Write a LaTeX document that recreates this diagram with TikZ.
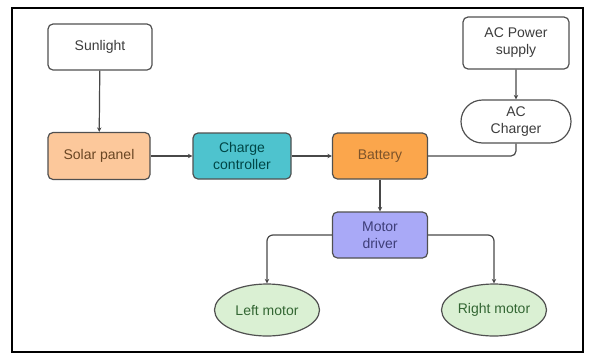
\documentclass[tikz,border=0pt]{standalone}
\usepackage{fontspec}
\setmainfont{Liberation Sans}
\usetikzlibrary{shapes.misc,shapes.geometric,arrows.meta}

\definecolor{edgegray}{HTML}{505050}
\definecolor{txtgray}{HTML}{3C3C3C}
\definecolor{solarfill}{HTML}{FCC89B}
\definecolor{chargefill}{HTML}{4EC3CE}
\definecolor{battfill}{HTML}{FBA64C}
\definecolor{drvfill}{HTML}{A9A9F7}
\definecolor{motfill}{HTML}{DAF0D3}

\begin{document}
\begin{tikzpicture}[x=1pt, y=-1pt,
  every node/.style={text=txtgray, font=\fontsize{14}{17}\selectfont, align=center, inner sep=0pt},
  blk/.style={draw=edgegray, line width=1.2pt, rounded corners=5pt,
    minimum width=#1, minimum height=46pt},
  blk/.default=100pt,
  pill/.style={draw=edgegray, line width=1.2pt, rounded rectangle,
    minimum width=110pt, minimum height=43pt},
  oval/.style={draw=edgegray, line width=1.2pt, ellipse, fill=motfill,
    minimum width=105pt, minimum height=52pt, text=green!25!black!80},
  link/.style={draw=edgegray!90!black, line width=1.2pt},
  arr/.style={link, -{Stealth[length=4.5pt,width=4.5pt]}}]

  \useasboundingbox (0,0) rectangle (589,354);
  \draw[line width=2pt] (12,8) rectangle (583,352);

  % top row
  \node[blk=104pt] (sun) at (100,47) {Sunlight};
  \node[blk=106pt, minimum height=52pt] (acps) at (516,43) {AC Power\\supply};
  \node[pill] (acch) at (516,121.5) {AC\\Charger};

  % middle row
  \node[blk=102pt, minimum height=47pt, fill=solarfill, text=brown!55!black] (solar) at (99,156) {Solar panel};
  \node[blk=98pt, fill=chargefill, text=teal!55!black] (charge) at (242,156) {Charge\\controller};
  \node[blk=95pt, fill=battfill, text=brown!65!black] (batt) at (380,156) {Battery};

  % bottom
  \node[blk=95pt, fill=drvfill, text={rgb,255:red,62;green,62;blue,120}] (drv) at (380,235) {Motor\\driver};
  \node[oval] (lmot) at (267,310) {Left motor};
  \node[oval] (rmot) at (494,310) {Right motor};

  \draw[arr] (sun) -- (solar);
  \draw[arr] (solar) -- (charge);
  \draw[arr] (charge) -- (batt);
  \draw[arr] (acps) -- (acch);
  \draw[link, rounded corners=5pt] (batt.east) -| (acch.south);
  \draw[arr] (batt) -- (drv);
  \draw[arr, rounded corners=6pt] (drv.west) -| (lmot.north);
  \draw[arr, rounded corners=6pt] (drv.east) -| (rmot.north);

\end{tikzpicture}
\end{document}
